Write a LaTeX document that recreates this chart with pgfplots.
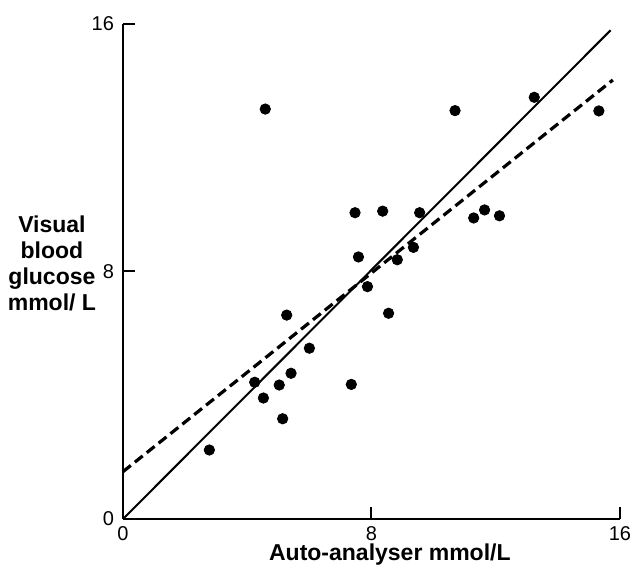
\documentclass[border=0pt]{standalone}
\usepackage{fontspec}
\setmainfont{Liberation Sans}
\usepackage{pgfplots}
\pgfplotsset{compat=1.18}
\begin{document}
\begin{tikzpicture}
\begin{axis}[
    scale only axis,
    width=248.5pt, height=247.5pt,
    xmin=0, xmax=16, ymin=0, ymax=16,
    axis x line=bottom, axis y line=left,
    axis line style={-, line width=1pt},
    xtick={0,8,16}, ytick={0,8,16},
    tick align=inside,
    major tick length=6pt,
    tick style={line width=1pt, black},
    /pgf/number format/assume math mode=true,
    ticklabel style={font=\fontsize{10}{12}\selectfont},
    yticklabel style={xshift=-1pt},
    xlabel={Auto-analyser mmol/L},
    ylabel={Visual\\blood\\glucose\\mmol/ L},
    every axis x label/.style={at={(axis description cs:0.537,-0.071)}, anchor=center,
      font=\bfseries\fontsize{11.5}{13}\selectfont},
    every axis y label/.style={at={(axis description cs:-0.143,0.517)}, anchor=center,
      align=center, font=\bfseries\fontsize{11.5}{13}\selectfont},
    clip=false,
]
% identity line
\addplot[black, line width=1pt] coordinates {(0,0) (15.7,15.8)};
% regression line
\addplot[black, line width=1.6pt, dash pattern=on 5pt off 2.6pt] coordinates {(0,1.53) (15.77,14.19)};
% observations
\addplot[only marks, mark=*, mark size=2.6pt, black] coordinates {
  (4.58,13.25) (10.69,13.20) (13.24,13.63) (15.32,13.19)
  (7.47,9.90) (8.36,9.95) (9.55,9.90) (11.29,9.73) (11.64,9.99) (12.12,9.80)
  (7.58,8.47) (8.83,8.38) (9.35,8.78) (7.87,7.51)
  (5.27,6.59) (8.55,6.65) (6.00,5.52) (5.41,4.71)
  (4.24,4.42) (5.03,4.33) (7.35,4.35) (4.52,3.91)
  (5.14,3.24) (2.78,2.23)
};
\end{axis}
\pgfresetboundingbox
\path[use as bounding box] (-61.5pt,-26.5pt) rectangle (255.5pt,259.5pt);
\end{tikzpicture}
\end{document}
